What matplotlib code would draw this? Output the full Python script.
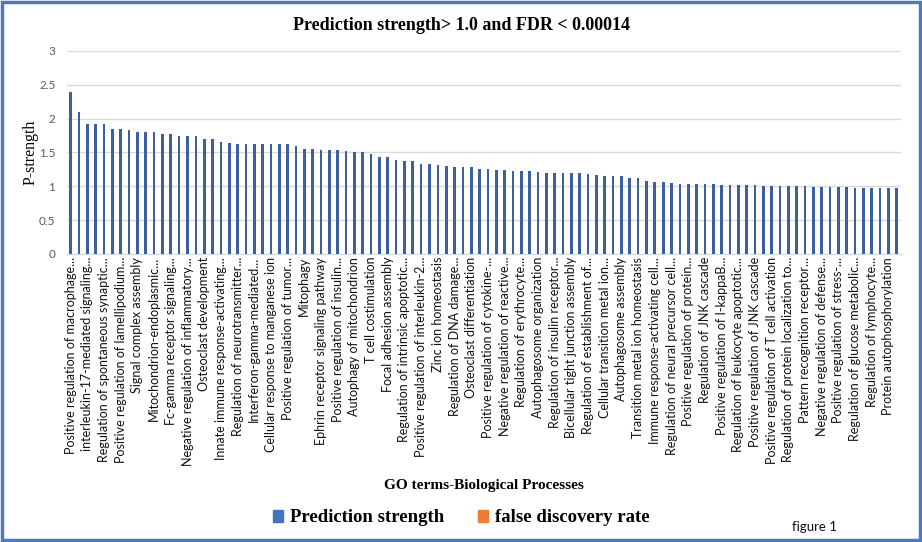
import matplotlib
matplotlib.use("Agg")
import matplotlib.pyplot as plt
from matplotlib.patches import Patch, Rectangle

# ---------------------------------------------------------------------------
# Data
# ---------------------------------------------------------------------------
# one label for every other bar, as in the source chart
go_labels = [
    "Positive regulation of macrophage...",
    "interleukin-17-mediated signaling...",
    "Regulation of spontaneous synaptic...",
    "Positive regulation of lamellipodium...",
    "Signal complex assembly",
    "Mitochondrion-endoplasmic...",
    "Fc-gamma receptor signaling...",
    "Negative regulation of inflammatory...",
    "Osteoclast development",
    "Innate immune response-activating...",
    "Regulation of neurotransmitter...",
    "Interferon-gamma-mediated...",
    "Cellular response to manganese ion",
    "Positive regulation of tumor...",
    "Mitophagy",
    "Ephrin receptor signaling pathway",
    "Positive regulation of insulin...",
    "Autophagy of mitochondrion",
    "T cell costimulation",
    "Focal adhesion assembly",
    "Regulation of intrinsic apoptotic...",
    "Positive regulation of interleukin-2...",
    "Zinc ion homeostasis",
    "Regulation of DNA damage...",
    "Osteoclast differentiation",
    "Positive regulation of cytokine-...",
    "Negative regulation of reactive...",
    "Regulation of erythrocyte...",
    "Autophagosome organization",
    "Regulation of insulin receptor...",
    "Bicellular tight junction assembly",
    "Regulation of establishment of...",
    "Cellular transition metal ion...",
    "Autophagosome assembly",
    "Transition metal ion homeostasis",
    "Immune response-activating cell...",
    "Regulation of neural precursor cell...",
    "Positive regulation of protein...",
    "Regulation of JNK cascade",
    "Positive regulation of I-kappaB...",
    "Regulation of leukocyte apoptotic...",
    "Positive regulation of JNK cascade",
    "Positive regulation of T cell activation",
    "Regulation of protein localization to...",
    "Pattern recognition receptor...",
    "Negative regulation of defense...",
    "Positive regulation of stress-...",
    "Regulation of glucose metabolic...",
    "Regulation of lymphocyte...",
    "Protein autophosphorylation",
]

p_strength = [
    2.40, 2.10, 1.92, 1.92, 1.92, 1.85, 1.85, 1.83, 1.80, 1.80,
    1.80, 1.78, 1.77, 1.75, 1.74, 1.74, 1.70, 1.70, 1.66, 1.64,
    1.62, 1.62, 1.62, 1.62, 1.62, 1.62, 1.62, 1.59, 1.55, 1.55,
    1.54, 1.53, 1.53, 1.52, 1.50, 1.50, 1.48, 1.44, 1.44, 1.39,
    1.38, 1.37, 1.33, 1.33, 1.32, 1.30, 1.28, 1.28, 1.28, 1.25,
    1.25, 1.24, 1.24, 1.23, 1.23, 1.22, 1.21, 1.20, 1.20, 1.20,
    1.19, 1.19, 1.18, 1.17, 1.15, 1.15, 1.15, 1.12, 1.12, 1.08,
    1.06, 1.06, 1.05, 1.04, 1.04, 1.03, 1.03, 1.03, 1.02, 1.02,
    1.02, 1.02, 1.02, 1.01, 1.01, 1.01, 1.01, 1.01, 1.00, 0.99,
    0.99, 0.99, 0.99, 0.99, 0.98, 0.98, 0.97, 0.97, 0.97, 0.97,
]

y_ticks = [0, 0.5, 1, 1.5, 2, 2.5, 3]
y_tick_labels = ["0", "0.5", "1", "1.5", "2", "2.5", "3"]

# ---------------------------------------------------------------------------
# Styling
# ---------------------------------------------------------------------------
BAR_COLOR = "#3B5FA0"
PS_COLOR = "#4472C4"
FDR_COLOR = "#ED7D31"
GRID_COLOR = "#D9D9D9"
FRAME_COLOR = "#4F79BD"
SERIF = "Liberation Serif"
SANS = "Lato"

fig = plt.figure(figsize=(9.22, 5.42), dpi=100)
ax = fig.add_axes([66.5 / 922, 1 - 254 / 542, 834.5 / 922, 203 / 542])

x = list(range(len(p_strength)))
ax.bar(x, p_strength, width=0.32, color=BAR_COLOR, zorder=3)

ax.set_xlim(-0.5, len(p_strength) - 0.5)
ax.set_ylim(0, 3)
ax.set_yticks(y_ticks)
ax.set_yticklabels(y_tick_labels, fontfamily=SANS, fontsize=8.5, color="#595959")
ax.set_xticks(x[::2])
ax.set_xticklabels(go_labels, rotation=90, ha="center", va="top",
                   fontfamily=SANS, fontsize=9, color="#111111")
ax.tick_params(axis="both", length=0)
ax.tick_params(axis="x", pad=2)
ax.tick_params(axis="y", pad=8)
ax.grid(axis="y", color=GRID_COLOR, linewidth=1, zorder=0)
for side in ("top", "right", "left"):
    ax.spines[side].set_visible(False)
ax.spines["bottom"].set_color(GRID_COLOR)

ax.set_ylabel("P-strength", fontfamily=SERIF, fontsize=11.5, labelpad=0)
ax.set_xlabel("GO terms-Biological Processes", fontfamily=SERIF,
              fontsize=11, fontweight="bold", labelpad=10)

fig.text(0.5, 1 - 25 / 542, "Prediction strength> 1.0 and FDR < 0.00014",
         ha="center", va="center", fontfamily=SERIF, fontsize=13,
         fontweight="bold")

handles = [Patch(color=PS_COLOR, label="Prediction strength"),
           Patch(color=FDR_COLOR, label="false discovery rate")]
fig.legend(handles=handles, loc="center", bbox_to_anchor=(0.5, 1 - 518 / 542),
           ncol=2, frameon=False, handlelength=0.55, handleheight=0.55,
           handletextpad=0.35, columnspacing=1.8,
           prop={"family": SERIF, "size": 13.5, "weight": "bold"})

fig.text(814 / 922, 1 - 527 / 542, "figure 1", ha="center", va="center",
         fontfamily=SANS, fontsize=9.5, color="#111111")

# blue frame round the whole picture
fig.patches.append(Rectangle((0.002, 0.003), 0.996, 0.994, transform=fig.transFigure,
                             fill=False, edgecolor=FRAME_COLOR, linewidth=2.5))

fig.savefig("out.png", dpi=100)
